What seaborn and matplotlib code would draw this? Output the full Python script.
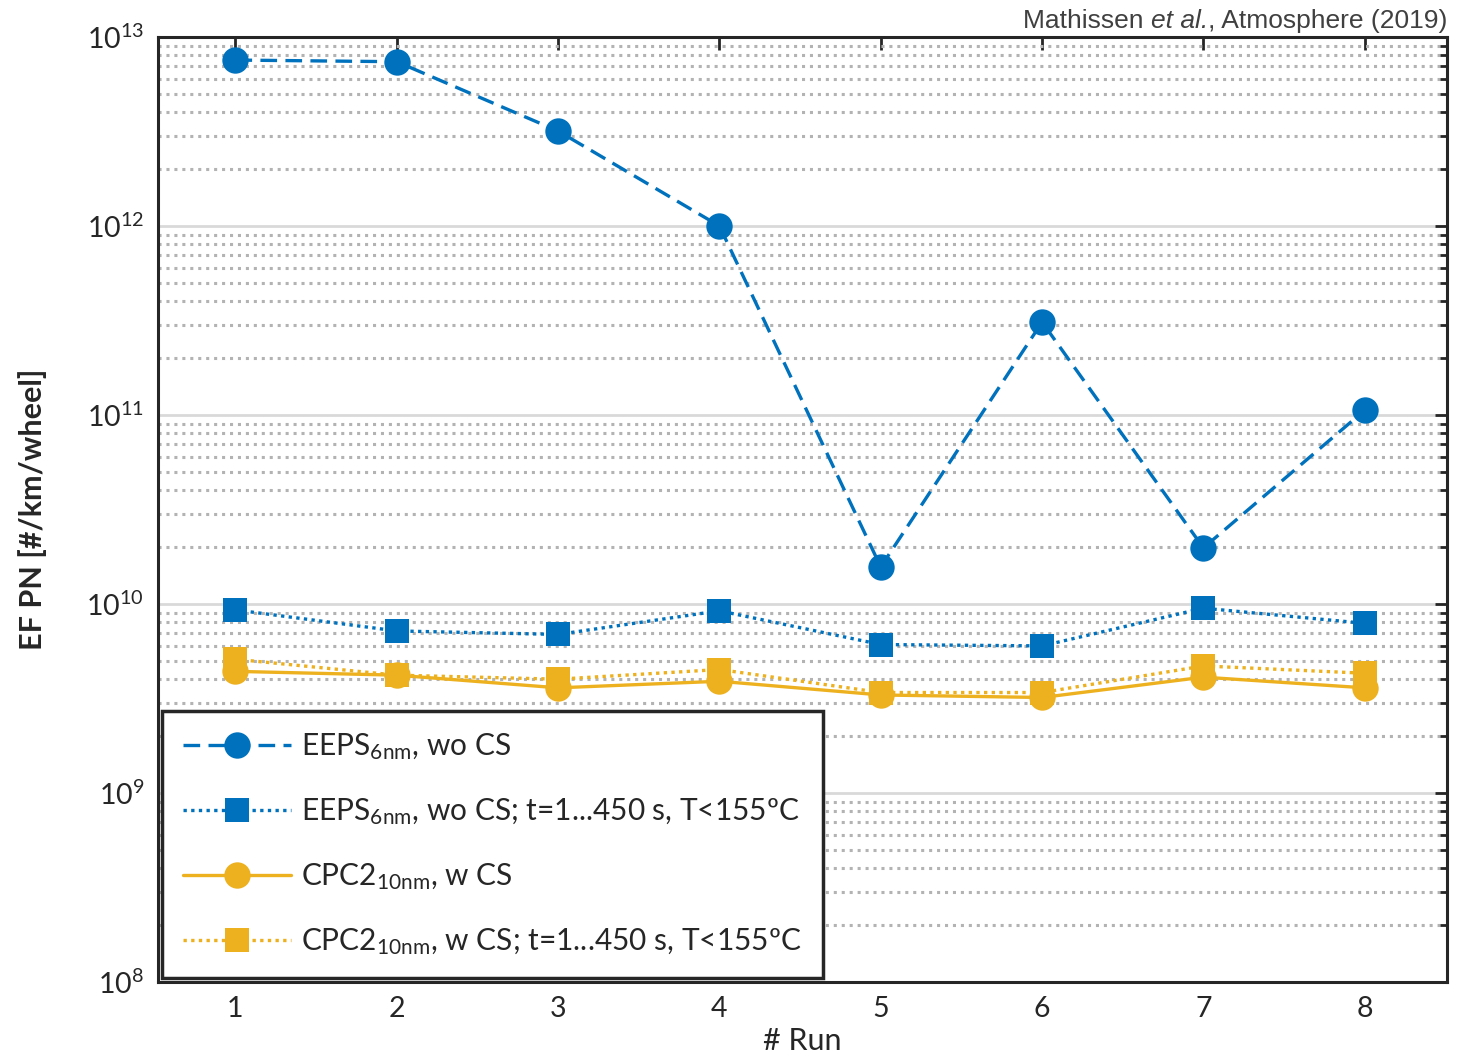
import numpy as np
import pandas as pd
import matplotlib
matplotlib.use('Agg')
import matplotlib.pyplot as plt
from matplotlib.ticker import LogLocator, NullFormatter
import seaborn as sns

# Data
runs = [1, 2, 3, 4, 5, 6, 7, 8]
eeps_wo_cs = [7.55e12, 7.4e12, 3.18e12, 1.0e12, 1.57e10, 3.1e11, 1.98e10, 1.06e11]
eeps_wo_cs_short = [9.3e9, 7.2e9, 6.9e9, 9.2e9, 6.1e9, 6.0e9, 9.5e9, 7.9e9]
cpc2_w_cs = [4.4e9, 4.2e9, 3.6e9, 3.9e9, 3.3e9, 3.2e9, 4.1e9, 3.6e9]
cpc2_w_cs_short = [5.1e9, 4.2e9, 4.0e9, 4.5e9, 3.4e9, 3.4e9, 4.7e9, 4.3e9]

labels = [r'EEPS$_{\mathrm{6nm}}$, wo CS',
          r'EEPS$_{\mathrm{6nm}}$, wo CS; t=1...450 s, T<155ºC',
          r'CPC2$_{\mathrm{10nm}}$, w CS',
          r'CPC2$_{\mathrm{10nm}}$, w CS; t=1...450 s, T<155ºC']

blue = '#0072BD'
yellow = '#EDB120'

sns.set_style('white')
plt.rcParams['font.family'] = ['Lato', 'DejaVu Sans']
plt.rcParams['mathtext.fontset'] = 'custom'
plt.rcParams['mathtext.rm'] = 'Lato'
plt.rcParams['mathtext.it'] = 'Lato:italic'

fig = plt.figure(figsize=(14.71, 10.57), dpi=100)
ax = fig.add_axes([0.1074, 0.071, 0.8763, 0.894])

df = pd.DataFrame({'run': runs})
series = [
    (eeps_wo_cs, blue, 'o', (0, (5, 2.5)), 19),
    (eeps_wo_cs_short, blue, 's', (0, (1, 1.3)), 17),
    (cpc2_w_cs, yellow, 'o', '-', 19),
    (cpc2_w_cs_short, yellow, 's', (0, (1, 1.3)), 17),
]
for (vals, col, mk, ls, ms), lab in zip(series, labels):
    d = df.assign(val=vals)
    sns.lineplot(data=d, x='run', y='val', ax=ax, color=col, marker=mk,
                 markersize=ms, markeredgewidth=0, linewidth=2.4,
                 linestyle=ls, label=lab)

ax.set_yscale('log')
ax.set_ylim(1e8, 1e13)
ax.set_xlim(0.52, 8.51)
ax.set_xticks(runs)
ax.yaxis.set_minor_locator(LogLocator(base=10, subs=np.arange(2, 10), numticks=20))
ax.yaxis.set_minor_formatter(NullFormatter())

ax.grid(True, which='major', axis='y', color='#d9d9d9', linewidth=2)
ax.grid(True, which='minor', axis='y', color='#b3b3b3', linestyle=(0, (1, 1.6)), linewidth=2.2)
ax.set_axisbelow(True)

for s in ax.spines.values():
    s.set_linewidth(2.2)
    s.set_color('#262626')

ax.tick_params(axis='both', which='both', direction='in', top=True, right=True,
               colors='#262626', labelcolor='#262626')
ax.tick_params(axis='both', which='major', length=9, width=2, labelsize=20.5, pad=10)
ax.tick_params(axis='y', which='minor', length=5, width=2)

ax.set_xlabel('# Run', fontsize=22, labelpad=4, color='#262626')
ax.set_ylabel('EF PN [#/km/wheel]', fontsize=22, fontweight='bold', labelpad=28, color='#262626')

leg = ax.legend(loc='lower left', bbox_to_anchor=(0.0035, 0.004), fontsize=21.5,
                frameon=True, fancybox=False, edgecolor='#262626', framealpha=1,
                handlelength=3.6, handletextpad=0.35, borderpad=0.7, labelspacing=1.15,
                borderaxespad=0)
leg.get_frame().set_linewidth(2.5)

# citation in the top right corner, "et al." in italics
cite_font = dict(fontsize=19, color='#404040', va='baseline', ha='right',
                 family=['Liberation Sans', 'DejaVu Sans'])
renderer = fig.canvas.get_renderer()
x_right = 0.984 * fig.bbox.width
y_base = fig.bbox.height - 28
for part, style in [(', Atmosphere (2019)', 'normal'), ('et al.', 'italic'), ('Mathissen ', 'normal')]:
    t = fig.text(x_right, y_base, part, transform=None, fontstyle=style, **cite_font)
    x_right = t.get_window_extent(renderer).x0

fig.savefig('out.png', dpi=100)
